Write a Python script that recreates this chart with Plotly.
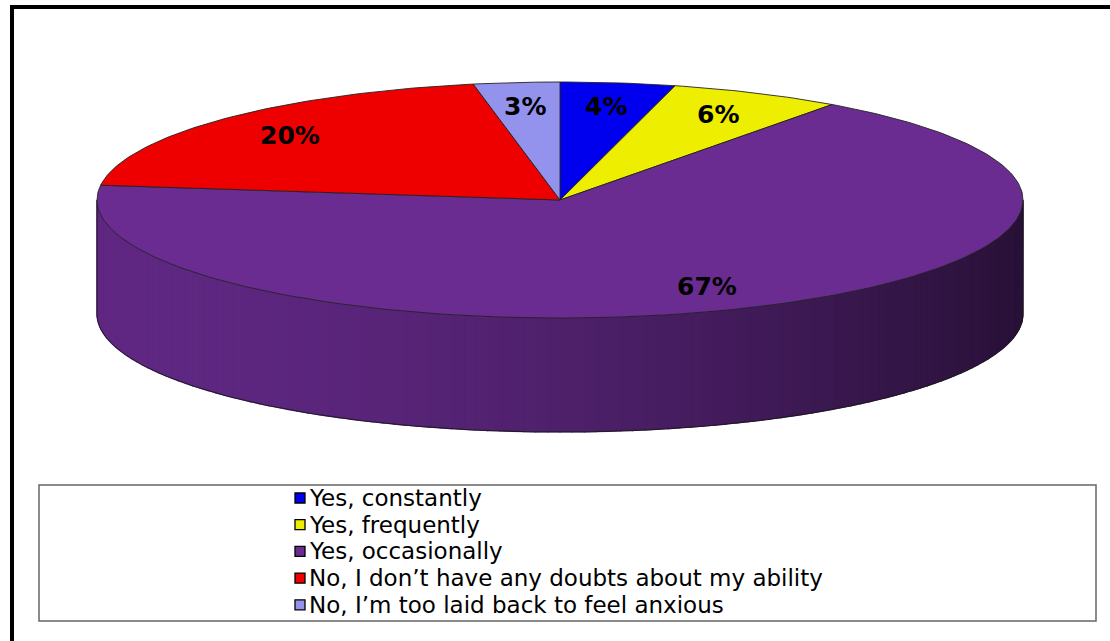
import numpy as np
import plotly.graph_objects as go

# ---- data ----
categories = ["Yes, constantly", "Yes, frequently", "Yes, occasionally",
              "No, I don\u2019t have any doubts about my ability",
              "No, I\u2019m too laid back to feel anxious"]
values = [4, 6, 67, 20, 3]
colors = ["#0000EE", "#EEEE00", "#6A2C91", "#EE0000", "#9393EE"]

# ---- geometry (layout space = pixels) ----
W, H = 1110, 641
cx, cy = 560, 200
rx, ry = 463, 118
depth = 114
label_r = 0.8

fig = go.Figure()

def ell(theta, dy=0.0, r=1.0):
    return cx + r * rx * np.sin(theta), cy - r * ry * np.cos(theta) + dy

# side (front wall) drawn as gradient strips
base = np.array([0x6A, 0x2C, 0x91], dtype=float)
n_strips = 120
th = np.linspace(np.pi / 2, 3 * np.pi / 2, n_strips + 1)
for i in range(n_strips):
    a, b = th[i], th[i + 1]
    ts = np.linspace(a, b, 4)
    xt, yt = ell(ts)
    xb, yb = ell(ts[::-1], depth)
    xm = (xt.mean() - (cx - rx)) / (2 * rx)
    f = 0.90 - 0.52 * xm ** 1.7
    c = np.clip(base * f, 0, 255).astype(int)
    col = f"rgb({c[0]},{c[1]},{c[2]})"
    fig.add_trace(go.Scatter(x=np.r_[xt, xb, xt[0]], y=np.r_[yt, yb, yt[0]],
                             fill="toself", fillcolor=col, mode="lines",
                             line=dict(color=col, width=1.2),
                             hoverinfo="skip", showlegend=False))

# side outline
ts = np.linspace(np.pi / 2, 3 * np.pi / 2, 200)
xb, yb = ell(ts, depth)
xr, yr = ell(np.pi / 2)
xl, yl = ell(3 * np.pi / 2)
fig.add_trace(go.Scatter(x=np.r_[xr, xb, xl], y=np.r_[yr, yb, yl], mode="lines",
                         line=dict(color="#1a1a1a", width=0.9),
                         hoverinfo="skip", showlegend=False))

# top slices (clockwise from 12 o'clock)
total = sum(values)
cum = np.cumsum([0] + values) / total * 2 * np.pi
for i, (cat, v, col) in enumerate(zip(categories, values, colors)):
    a, b = cum[i], cum[i + 1]
    n = max(int((b - a) / (2 * np.pi) * 400), 8)
    ts = np.linspace(a, b, n)
    xs, ys = ell(ts)
    fig.add_trace(go.Scatter(x=np.r_[cx, xs, cx], y=np.r_[cy, ys, cy],
                             fill="toself", fillcolor=col, mode="lines",
                             line=dict(color="#222222", width=0.9),
                             name=cat, hoverinfo="name", showlegend=False))
    mid = (a + b) / 2
    lx, ly = ell(mid, r=label_r)
    fig.add_annotation(x=lx, y=ly, text=f"{round(v / total * 100)}%",
                       showarrow=False,
                       font=dict(family="DejaVu Sans", size=25, color="black",
                                 weight="bold"))

# legend (manual, to match the boxed legend)
leg_x, leg_y0, leg_dy = 300, 498, 26.7
for i, (cat, col) in enumerate(zip(categories, colors)):
    yy = leg_y0 + i * leg_dy
    fig.add_trace(go.Scatter(x=[leg_x], y=[yy], mode="markers",
                             marker=dict(symbol="square", size=10, color=col,
                                         line=dict(color="black", width=1.3)),
                             hoverinfo="skip", showlegend=False))
    fig.add_annotation(x=leg_x + 7, y=yy, text=cat, showarrow=False,
                       xanchor="left", yanchor="middle",
                       font=dict(family="DejaVu Sans", size=23, color="black"))

# legend box and chart frame
fig.add_shape(type="rect", x0=39, y0=485, x1=1096, y1=621,
              line=dict(color="#666666", width=1.5), layer="below")
fig.add_shape(type="line", x0=10, y0=7, x1=W, y1=7,
              line=dict(color="black", width=4))
fig.add_shape(type="line", x0=12, y0=5, x1=12, y1=H,
              line=dict(color="black", width=4))

fig.update_layout(
    width=W, height=H,
    margin=dict(l=0, r=0, t=0, b=0),
    paper_bgcolor="white", plot_bgcolor="white",
    xaxis=dict(range=[0, W], visible=False, fixedrange=True),
    yaxis=dict(range=[H, 0], visible=False, fixedrange=True),
    showlegend=False,
)

fig.write_html("out.html", config={"displayModeBar": False},
               post_script="document.body.style.margin='0';")
